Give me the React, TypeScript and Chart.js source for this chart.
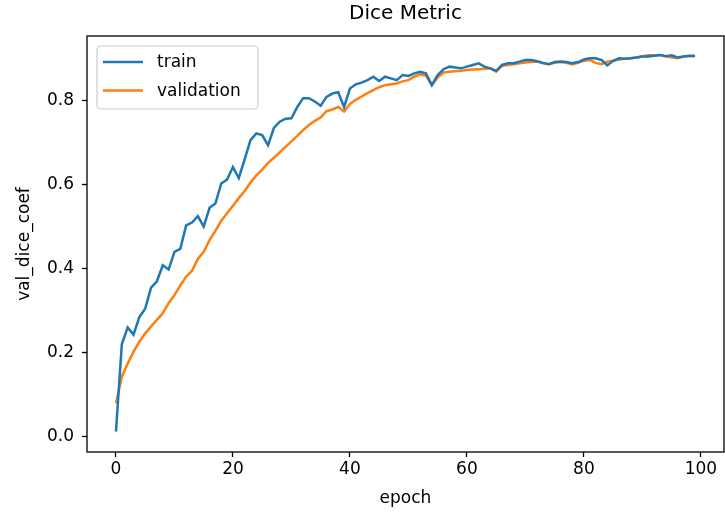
import { useEffect, useRef } from "react";
import { Chart, registerables } from "chart.js";

Chart.register(...registerables);

const FONT = '"DejaVu Sans", sans-serif';

const TITLE = "Dice Metric";
const X_LABEL = "epoch";
const Y_LABEL = "val_dice_coef";

const epochs: number[] = Array.from({ length: 100 }, (_, i) => i);

const train: number[] = [
  0.012, 0.22, 0.26, 0.243, 0.285, 0.305, 0.355, 0.37, 0.408, 0.398,
  0.44, 0.447, 0.503, 0.51, 0.525, 0.5, 0.545, 0.555, 0.603, 0.612,
  0.642, 0.616, 0.66, 0.706, 0.722, 0.718, 0.694, 0.735, 0.75, 0.757,
  0.758, 0.785, 0.806, 0.806, 0.798, 0.788, 0.809, 0.817, 0.82, 0.785,
  0.829, 0.839, 0.843, 0.849, 0.857, 0.847, 0.857, 0.853, 0.849, 0.861,
  0.859, 0.865, 0.869, 0.865, 0.837, 0.861, 0.875, 0.881, 0.879, 0.877,
  0.881, 0.885, 0.889, 0.881, 0.877, 0.871, 0.885, 0.889, 0.889, 0.893,
  0.897, 0.897, 0.894, 0.89, 0.887, 0.892, 0.893, 0.892, 0.889, 0.892,
  0.898, 0.901, 0.901, 0.897, 0.884, 0.895, 0.901, 0.9, 0.901, 0.903,
  0.905, 0.905, 0.907, 0.909, 0.906, 0.908, 0.903, 0.905, 0.907, 0.907,
];

const validation: number[] = [
  0.079, 0.143, 0.174, 0.202, 0.226, 0.246, 0.262, 0.278, 0.294, 0.318,
  0.337, 0.36, 0.381, 0.395, 0.423, 0.44, 0.468, 0.49, 0.514, 0.532,
  0.55, 0.568, 0.585, 0.605, 0.622, 0.636, 0.652, 0.664, 0.677, 0.69,
  0.703, 0.716, 0.73, 0.742, 0.752, 0.76, 0.775, 0.779, 0.785, 0.774,
  0.792, 0.802, 0.81, 0.818, 0.825, 0.832, 0.837, 0.839, 0.841, 0.846,
  0.849, 0.857, 0.863, 0.859, 0.837, 0.855, 0.867, 0.869, 0.87, 0.871,
  0.873, 0.874, 0.875, 0.876, 0.877, 0.869, 0.883, 0.885, 0.887, 0.889,
  0.891, 0.892, 0.893, 0.889, 0.887, 0.89, 0.892, 0.89, 0.886, 0.89,
  0.895, 0.897, 0.89, 0.887, 0.893, 0.895, 0.898, 0.9, 0.901, 0.903,
  0.906, 0.908, 0.908, 0.908, 0.906, 0.903, 0.901, 0.905, 0.906, 0.906,
];

const xTicks: number[] = [0, 20, 40, 60, 80, 100];
const yTicks: number[] = [0, 0.2, 0.4, 0.6, 0.8];

const TRAIN_COLOR = "#1f77b4";
const VAL_COLOR = "#ff7f0e";

// Title, axis labels, frame and an in-axes legend box
const decorPlugin = {
  id: "decor",
  afterDraw(chart: any) {
    const { ctx, chartArea: a } = chart;
    ctx.save();

    ctx.strokeStyle = "#000";
    ctx.lineWidth = 1.3;
    ctx.strokeRect(a.left, a.top, a.right - a.left, a.bottom - a.top);

    ctx.fillStyle = "#000";
    ctx.textAlign = "center";
    ctx.textBaseline = "middle";
    ctx.font = `20px ${FONT}`;
    ctx.fillText(TITLE, (a.left + a.right) / 2, 14);

    ctx.font = `17px ${FONT}`;
    ctx.fillText(X_LABEL, (a.left + a.right) / 2, 499);

    ctx.save();
    ctx.translate(25, (a.top + a.bottom) / 2);
    ctx.rotate(-Math.PI / 2);
    ctx.fillText(Y_LABEL, 0, 0);
    ctx.restore();

    // legend
    const bx = a.left + 10;
    const by = a.top + 10;
    const bw = 161;
    const bh = 63;
    ctx.beginPath();
    ctx.roundRect(bx, by, bw, bh, 4);
    ctx.fillStyle = "rgba(255,255,255,0.8)";
    ctx.fill();
    ctx.strokeStyle = "#cccccc";
    ctx.lineWidth = 1.2;
    ctx.stroke();

    ctx.textAlign = "left";
    ctx.textBaseline = "middle";
    ctx.font = `17px ${FONT}`;
    chart.data.datasets.forEach((ds: any, i: number) => {
      const y = by + 16 + i * 28.5;
      ctx.beginPath();
      ctx.moveTo(bx + 6, y);
      ctx.lineTo(bx + 46, y);
      ctx.strokeStyle = ds.borderColor;
      ctx.lineWidth = 2.5;
      ctx.stroke();
      ctx.fillStyle = "#000";
      ctx.fillText(ds.label, bx + 60, y + 1);
    });

    ctx.restore();
  },
};

export default function App() {
  const canvasRef = useRef<HTMLCanvasElement | null>(null);

  useEffect(() => {
    if (!canvasRef.current) return;
    const chart = new Chart(canvasRef.current, {
      type: "line",
      data: {
        datasets: [
          {
            label: "train",
            data: train.map((v, i) => ({ x: epochs[i], y: v })),
            borderColor: TRAIN_COLOR,
            backgroundColor: TRAIN_COLOR,
            borderWidth: 2.5,
            pointRadius: 0,
            tension: 0,
            fill: false,
          },
          {
            label: "validation",
            data: validation.map((v, i) => ({ x: epochs[i], y: v })),
            borderColor: VAL_COLOR,
            backgroundColor: VAL_COLOR,
            borderWidth: 2.5,
            pointRadius: 0,
            tension: 0,
            fill: false,
          },
        ],
      },
      options: {
        animation: false,
        responsive: false,
        devicePixelRatio: 1,
        layout: { padding: { top: 36, right: 1, left: 0, bottom: 0 } },
        plugins: {
          legend: { display: false },
          title: { display: false },
          tooltip: { enabled: false },
        },
        scales: {
          x: {
            type: "linear",
            min: -4.95,
            max: 103.95,
            afterBuildTicks: (s: any) => {
              s.ticks = xTicks.map((v) => ({ value: v }));
            },
            afterFit: (s: any) => {
              s.height = 63;
            },
            grid: {
              display: true,
              drawOnChartArea: false,
              drawTicks: true,
              tickLength: 5,
              tickColor: "#000",
              tickWidth: 1.3,
            },
            border: { display: false },
            ticks: {
              color: "#000",
              font: { family: FONT, size: 17 },
              padding: 2,
              maxRotation: 0,
              autoSkip: false,
              callback: (v: any) => String(v),
            },
          },
          y: {
            type: "linear",
            min: -0.0364,
            max: 0.954,
            afterBuildTicks: (s: any) => {
              s.ticks = yTicks.map((v) => ({ value: v }));
            },
            afterFit: (s: any) => {
              s.width = 87;
            },
            grid: {
              display: true,
              drawOnChartArea: false,
              drawTicks: true,
              tickLength: 5,
              tickColor: "#000",
              tickWidth: 1.3,
            },
            border: { display: false },
            ticks: {
              color: "#000",
              font: { family: FONT, size: 17 },
              padding: 8,
              autoSkip: false,
              callback: (v: any) => Number(v).toFixed(1),
            },
          },
        },
      },
      plugins: [decorPlugin],
    });
    return () => chart.destroy();
  }, []);

  return (
    <div style={{ position: "absolute", left: 0, top: 0, width: 725, height: 515, background: "#fff" }}>
      <canvas ref={canvasRef} width={725} height={515} style={{ display: "block" }} />
    </div>
  );
}
